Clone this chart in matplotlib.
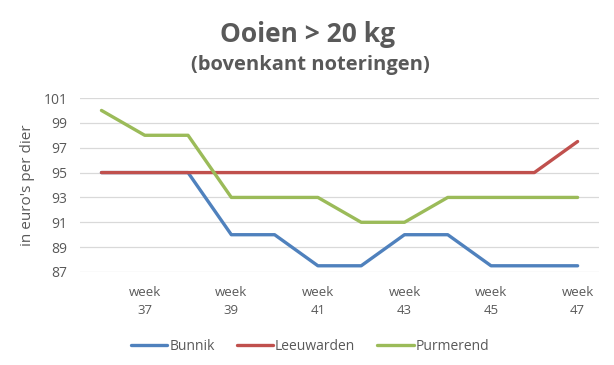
import matplotlib
matplotlib.use("Agg")
import matplotlib.pyplot as plt

weeks = [36, 37, 38, 39, 40, 41, 42, 43, 44, 45, 46, 47]
bunnik = [95, 95, 95, 90, 90, 87.5, 87.5, 90, 90, 87.5, 87.5, 87.5]
leeuwarden = [95, 95, 95, 95, 95, 95, 95, 95, 95, 95, 95, 97.5]
purmerend = [100, 98, 98, 93, 93, 93, 91, 91, 93, 93, 93, 93]
tick_weeks = [37, 39, 41, 43, 45, 47]
yticks = [87, 89, 91, 93, 95, 97, 99, 101]

plt.rcParams['font.family'] = ['Open Sans', 'DejaVu Sans']
txt = '#595959'

fig = plt.figure(figsize=(6.14, 3.65), dpi=100)
ax = fig.add_axes([0.130, 0.2548, 0.846, 0.4767])

ax.plot(weeks, bunnik, color='#4F81BD', lw=2.4, label='Bunnik', solid_capstyle='round')
ax.plot(weeks, leeuwarden, color='#C0504D', lw=2.4, label='Leeuwarden', solid_capstyle='round')
ax.plot(weeks, purmerend, color='#9BBB59', lw=2.4, label='Purmerend', solid_capstyle='round')

ax.set_xlim(35.5, 47.5)
ax.set_ylim(87, 101)
ax.set_yticks(yticks)
ax.set_yticklabels([str(v) for v in yticks], color=txt, fontsize=10)
ax.set_xticks(tick_weeks)
ax.set_xticklabels([f'week\n{w}' for w in tick_weeks], color=txt, fontsize=9.5, linespacing=1.5)
ax.tick_params(axis='x', length=0, pad=10)
ax.tick_params(axis='y', length=0, pad=9)
ax.grid(axis='y', color='#D9D9D9', lw=0.9)
ax.set_axisbelow(True)
for s in ax.spines.values():
    s.set_visible(False)
ax.set_ylabel("in euro's per dier", color=txt, fontsize=11, labelpad=6)

fig.text(0.5, 0.906, 'Ooien > 20 kg', ha='center', va='center', fontsize=19, fontweight='bold', color=txt)
fig.text(0.505, 0.822, '(bovenkant noteringen)', ha='center', va='center', fontsize=14.5, fontweight='bold', color=txt)

leg = fig.legend(loc='center', bbox_to_anchor=(0.505, 0.052), ncol=3, frameon=False,
                 fontsize=10, handlelength=2.6, columnspacing=1.6, handletextpad=0.15)
for t in leg.get_texts():
    t.set_color(txt)

fig.savefig('out.png', dpi=100)
